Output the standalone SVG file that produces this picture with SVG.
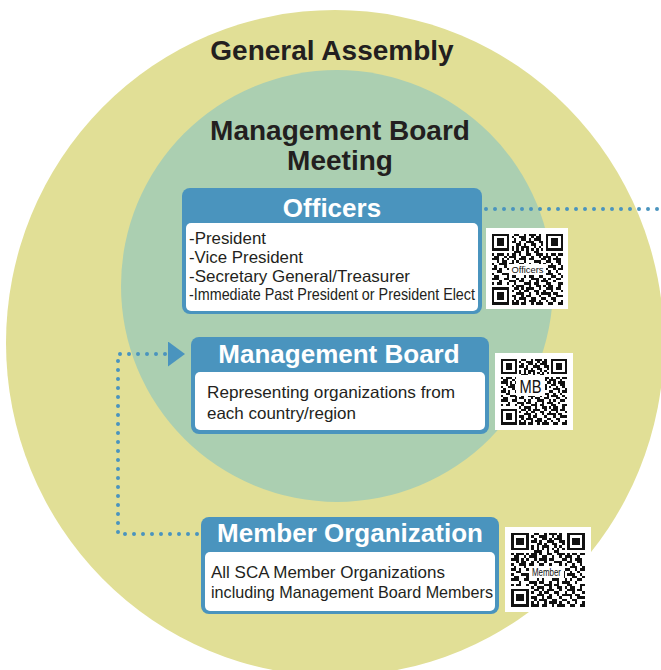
<svg xmlns="http://www.w3.org/2000/svg" xmlns:xlink="http://www.w3.org/1999/xlink" width="661" height="670" viewBox="0 0 661 670">
<style>
.title{font-family:"Liberation Sans",Arial,sans-serif;font-weight:bold;fill:#231f20;text-anchor:middle}
.head{font-family:"Liberation Sans",Arial,sans-serif;font-weight:bold;fill:#ffffff;font-size:26px;text-anchor:middle}
.body{font-family:"Liberation Sans",Arial,sans-serif;fill:#231f20;font-size:16.5px}
.box{fill:#4a94be}
.inner{fill:#ffffff}
.qrbg{fill:#ffffff}
.qrlab{font-family:"Liberation Sans",Arial,sans-serif;fill:#111111;text-anchor:middle}
.dots{fill:none;stroke:#4a94be;stroke-width:4;stroke-linecap:round;stroke-dasharray:0 9}
</style>
<defs>
<marker id="tri" viewBox="0 0 17 25" refX="0" refY="12.5" markerWidth="17" markerHeight="25" markerUnits="userSpaceOnUse" orient="auto">
<path d="M0 0L17 12.5L0 25z" fill="#4a94be"/>
</marker>
<symbol id="qr" viewBox="0 0 29 29">
<path fill="#111" fill-rule="evenodd" shape-rendering="crispEdges" d="M0 0h7v7h-7zM1 1v5h5v-5zM2 2h3v3h-3zM22 0h7v7h-7zM23 1v5h5v-5zM24 2h3v3h-3zM0 22h7v7h-7zM1 23v5h5v-5zM2 24h3v3h-3z
M9 0h2v1h-2zM13 0h1v1h-1zM15 0h3v1h-3zM19 0h1v1h-1z
M8 1h1v1h-1zM11 1h3v1h-3zM16 1h1v1h-1zM18 1h2v1h-2z
M9 2h1v1h-1zM12 2h2v1h-2zM15 2h1v1h-1zM17 2h3v1h-3z
M8 3h2v1h-2zM11 3h1v1h-1zM14 3h3v1h-3zM19 3h2v1h-2z
M10 4h2v1h-2zM13 4h1v1h-1zM16 4h2v1h-2zM20 4h1v1h-1z
M8 5h1v1h-1zM10 5h1v1h-1zM12 5h3v1h-3zM17 5h1v1h-1zM19 5h1v1h-1z
M8 6h1v1h-1zM10 6h1v1h-1zM12 6h1v1h-1zM14 6h1v1h-1zM16 6h1v1h-1zM18 6h1v1h-1zM20 6h1v1h-1z
M9 7h3v1h-3zM14 7h1v1h-1zM17 7h2v1h-2z
M0 8h1v1h-1zM2 8h3v1h-3zM6 8h1v1h-1zM8 8h2v1h-2zM11 8h1v1h-1zM14 8h2v1h-2zM18 8h3v1h-3zM22 8h1v1h-1zM24 8h2v1h-2zM27 8h2v1h-2z
M1 9h2v1h-2zM5 9h1v1h-1zM7 9h3v1h-3zM12 9h2v1h-2zM16 9h1v1h-1zM19 9h1v1h-1zM21 9h3v1h-3zM26 9h1v1h-1z
M0 10h3v1h-3zM4 10h1v1h-1zM6 10h1v1h-1zM9 10h1v1h-1zM11 10h3v1h-3zM15 10h2v1h-2zM20 10h2v1h-2zM23 10h1v1h-1zM25 10h3v1h-3z
M2 11h1v1h-1zM4 11h2v1h-2zM8 11h1v1h-1zM10 11h1v1h-1zM13 11h1v1h-1zM17 11h3v1h-3zM22 11h2v1h-2zM26 11h2v1h-2z
M0 12h1v1h-1zM3 12h3v1h-3zM7 12h2v1h-2zM11 12h2v1h-2zM15 12h1v1h-1zM19 12h1v1h-1zM21 12h1v1h-1zM24 12h1v1h-1zM27 12h1v1h-1z
M1 13h1v1h-1zM5 13h1v1h-1zM9 13h3v1h-3zM14 13h2v1h-2zM18 13h2v1h-2zM23 13h3v1h-3zM28 13h1v1h-1z
M0 14h2v1h-2zM3 14h1v1h-1zM6 14h3v1h-3zM12 14h1v1h-1zM16 14h3v1h-3zM21 14h2v1h-2zM25 14h1v1h-1zM27 14h2v1h-2z
M2 15h2v1h-2zM7 15h1v1h-1zM10 15h2v1h-2zM14 15h1v1h-1zM19 15h2v1h-2zM23 15h1v1h-1zM26 15h1v1h-1z
M0 16h1v1h-1zM4 16h3v1h-3zM9 16h1v1h-1zM12 16h3v1h-3zM17 16h1v1h-1zM20 16h1v1h-1zM22 16h3v1h-3zM27 16h1v1h-1z
M1 17h2v1h-2zM6 17h1v1h-1zM8 17h2v1h-2zM13 17h1v1h-1zM15 17h2v1h-2zM19 17h2v1h-2zM24 17h2v1h-2zM28 17h1v1h-1z
M0 18h3v1h-3zM5 18h2v1h-2zM10 18h1v1h-1zM12 18h1v1h-1zM16 18h3v1h-3zM21 18h1v1h-1zM23 18h1v1h-1zM26 18h2v1h-2z
M3 19h1v1h-1zM7 19h3v1h-3zM11 19h2v1h-2zM15 19h1v1h-1zM18 19h1v1h-1zM20 19h3v1h-3zM25 19h1v1h-1z
M0 20h1v1h-1zM2 20h2v1h-2zM6 20h1v1h-1zM9 20h1v1h-1zM13 20h3v1h-3zM17 20h2v1h-2zM22 20h2v1h-2zM27 20h2v1h-2z
M8 21h1v1h-1zM10 21h3v1h-3zM15 21h1v1h-1zM18 21h2v1h-2zM21 21h1v1h-1zM23 21h2v1h-2zM27 21h1v1h-1z
M9 22h2v1h-2zM12 22h1v1h-1zM14 22h3v1h-3zM19 22h1v1h-1zM22 22h3v1h-3zM26 22h2v1h-2z
M8 23h1v1h-1zM11 23h1v1h-1zM13 23h2v1h-2zM17 23h2v1h-2zM21 23h1v1h-1zM24 23h1v1h-1zM28 23h1v1h-1z
M10 24h3v1h-3zM15 24h1v1h-1zM18 24h1v1h-1zM20 24h4v1h-4zM25 24h2v1h-2z
M8 25h2v1h-2zM12 25h1v1h-1zM14 25h2v1h-2zM19 25h1v1h-1zM23 25h1v1h-1zM26 25h3v1h-3z
M9 26h1v1h-1zM11 26h3v1h-3zM16 26h2v1h-2zM20 26h2v1h-2zM24 26h2v1h-2z
M8 27h1v1h-1zM10 27h1v1h-1zM13 27h1v1h-1zM15 27h3v1h-3zM19 27h1v1h-1zM22 27h1v1h-1zM25 27h1v1h-1zM28 27h1v1h-1z
M8 28h3v1h-3zM12 28h2v1h-2zM16 28h1v1h-1zM18 28h3v1h-3zM23 28h2v1h-2zM27 28h2v1h-2z"/>
</symbol>
</defs>
<rect width="661" height="670" fill="#ffffff"/>
<g id="general-assembly">
<ellipse cx="335" cy="343" rx="329" ry="333" fill="#e1df96"/>
<text class="title" x="332" y="60" font-size="28">General Assembly</text>
</g>
<g id="management-board-meeting">
<circle cx="337" cy="286" r="216" fill="#abcfb1"/>
<text class="title" x="340" y="140" font-size="28">Management Board</text>
<text class="title" x="340" y="170" font-size="28">Meeting</text>
</g>
<g id="connectors">
<path class="dots" d="M486 209H661"/>
<path class="dots" d="M197 534H118V354H168" marker-end="url(#tri)"/>
</g>
<g id="officers">
<rect class="box" x="182" y="188" width="300" height="126" rx="8"/>
<rect class="inner" x="186" y="223" width="292" height="88" rx="5"/>
<text class="head" x="332" y="217" font-size="27">Officers</text>
<text class="body" x="189" y="244" textLength="77" lengthAdjust="spacingAndGlyphs">-President</text>
<text class="body" x="189" y="263" textLength="114" lengthAdjust="spacingAndGlyphs">-Vice President</text>
<text class="body" x="189" y="282" textLength="221" lengthAdjust="spacingAndGlyphs">-Secretary General/Treasurer</text>
<text class="body" x="189" y="300" textLength="286" lengthAdjust="spacingAndGlyphs">-Immediate Past President or President Elect</text>
<g id="qr-officers">
<rect class="qrbg" x="486" y="228" width="82" height="81"/>
<use xlink:href="#qr" x="492" y="233" width="71" height="72"/>
<rect class="qrbg" x="509" y="264" width="37" height="11"/>
<text class="qrlab" x="527.5" y="273" font-size="9" textLength="32" lengthAdjust="spacingAndGlyphs">Officers</text>
</g>
</g>
<g id="management-board">
<rect class="box" x="191" y="337" width="298" height="97" rx="8"/>
<rect class="inner" x="195" y="372" width="290" height="58" rx="5"/>
<text class="head" x="339" y="363">Management Board</text>
<text class="body" x="207" y="398" textLength="248" lengthAdjust="spacingAndGlyphs">Representing organizations from</text>
<text class="body" x="207" y="419" textLength="149" lengthAdjust="spacingAndGlyphs">each country/region</text>
<g id="qr-mb">
<rect class="qrbg" x="495" y="353" width="78" height="77"/>
<use xlink:href="#qr" x="501" y="357" width="66" height="69"/>
<rect class="qrbg" x="516" y="375" width="29" height="21"/>
<text class="qrlab" x="530.5" y="393" font-size="18" textLength="22" lengthAdjust="spacingAndGlyphs">MB</text>
</g>
</g>
<g id="member-organization">
<rect class="box" x="201" y="517" width="298" height="97" rx="8"/>
<rect class="inner" x="205" y="552" width="290" height="59" rx="5"/>
<text class="head" x="350" y="542">Member Organization</text>
<text class="body" x="211" y="578" textLength="234" lengthAdjust="spacingAndGlyphs">All SCA Member Organizations</text>
<text class="body" x="211" y="598" textLength="282" lengthAdjust="spacingAndGlyphs">including Management Board Members</text>
<g id="qr-member">
<rect class="qrbg" x="505" y="527" width="86" height="85"/>
<use xlink:href="#qr" x="511" y="532" width="74" height="75"/>
<rect class="qrbg" x="529" y="566" width="35" height="12"/>
<text class="qrlab" x="546.5" y="576" font-size="10" textLength="29" lengthAdjust="spacingAndGlyphs">Member</text>
</g>
</g>
</svg>
